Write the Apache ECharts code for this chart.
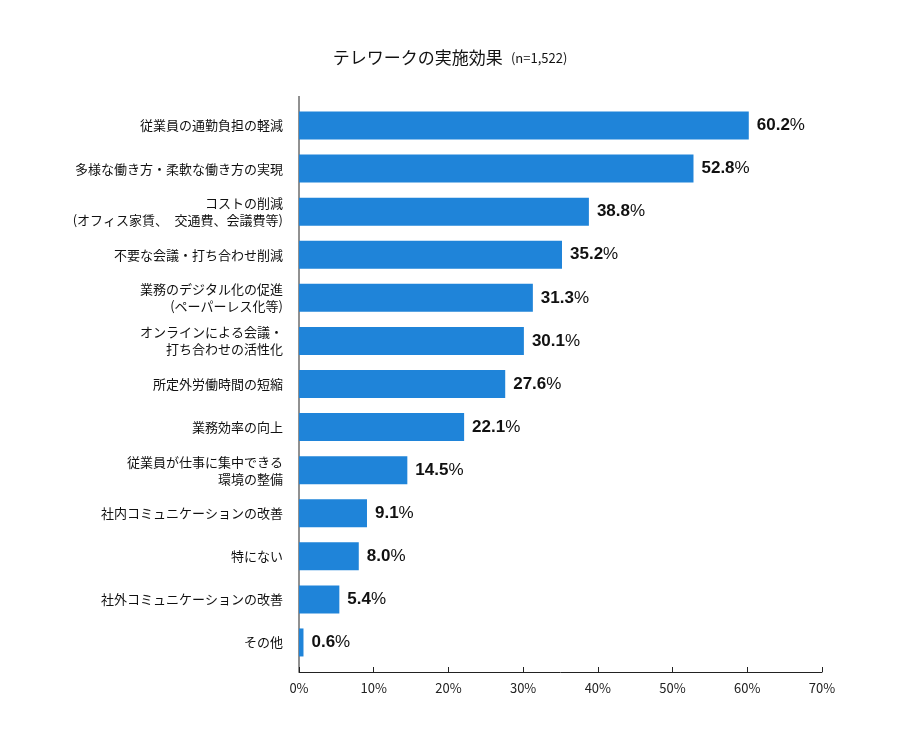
<!DOCTYPE html>
<html>
<head>
<meta charset="utf-8">
<script src="https://cdn.jsdelivr.net/npm/echarts@6/dist/echarts.min.js"></script>
<style>
  html, body { margin: 0; padding: 0; background: #fff; }
  #chart { width: 900px; height: 750px; }
</style>
</head>
<body>
<div id="chart"></div>
<script>
// テレワークの実施効果 (n=1,522)
var categories = [
  '従業員の通勤負担の軽減',
  '多様な働き方・柔軟な働き方の実現',
  'コストの削減\n(オフィス家賃、　交通費、会議費等)',
  '不要な会議・打ち合わせ削減',
  '業務のデジタル化の促進\n(ペーパーレス化等)',
  'オンラインによる会議・\n打ち合わせの活性化',
  '所定外労働時間の短縮',
  '業務効率の向上',
  '従業員が仕事に集中できる\n環境の整備',
  '社内コミュニケーションの改善',
  '特にない',
  '社外コミュニケーションの改善',
  'その他'
]
var values = [60.2, 52.8, 38.8, 35.2, 31.3, 30.1, 27.6, 22.1, 14.5, 9.1, 8.0, 5.4, 0.6]
var xTicks = [0, 10, 20, 30, 40, 50, 60, 70]

var FONT = '"Noto Sans CJK JP", "Noto Sans", sans-serif'
var gridLeft = 299, gridRight = 78, gridTop = 104, gridBottom = 86
var axisPad = 8 // 軸線が上下に少しはみ出している

var chart = echarts.init(document.getElementById('chart'))
chart.setOption({
  animation: false,
  textStyle: { fontFamily: FONT },
  title: {
    text: '{a|テレワークの実施効果}  {b|(n=1,522)}',
    left: 'center',
    top: 44,
    textStyle: {
      rich: {
        a: { fontSize: 17, color: '#111', fontWeight: 'normal', fontFamily: FONT },
        b: { fontSize: 13, color: '#111', fontWeight: 'normal', fontFamily: FONT }
      }
    }
  },
  grid: { left: gridLeft, right: gridRight, top: gridTop, bottom: gridBottom, containLabel: false },
  xAxis: {
    type: 'value',
    min: xTicks[0],
    max: xTicks[xTicks.length - 1],
    interval: 10,
    offset: axisPad,
    axisLine: { show: true, lineStyle: { color: '#222', width: 1 } },
    axisTick: { show: true, inside: true, length: 5, lineStyle: { color: '#222' } },
    splitLine: { show: false },
    axisLabel: { color: '#222', fontSize: 13, margin: 10, formatter: '{value}%', fontFamily: FONT }
  },
  yAxis: {
    type: 'category',
    inverse: true,
    data: categories,
    axisLine: { show: false },
    axisTick: { show: false },
    axisLabel: { color: '#111', fontSize: 13, lineHeight: 17, margin: 16, fontFamily: FONT }
  },
  graphic: [{
    type: 'line',
    silent: true,
    shape: { x1: gridLeft, y1: gridTop - axisPad, x2: gridLeft, y2: 750 - gridBottom + axisPad },
    style: { stroke: '#222', lineWidth: 1 }
  }],
  series: [{
    type: 'bar',
    data: values,
    barWidth: '65%',
    itemStyle: { color: '#1f84d9' },
    label: {
      show: true,
      position: 'right',
      distance: 8,
      formatter: function (p) { return '{n|' + p.value.toFixed(1) + '}{p|%}' },
      rich: {
        n: { fontSize: 17, fontWeight: 'bold', color: '#111', fontFamily: 'Liberation Sans, Arial, sans-serif' },
        p: { fontSize: 17, color: '#111', fontFamily: 'Liberation Sans, Arial, sans-serif' }
      }
    }
  }]
})
</script>
</body>
</html>
